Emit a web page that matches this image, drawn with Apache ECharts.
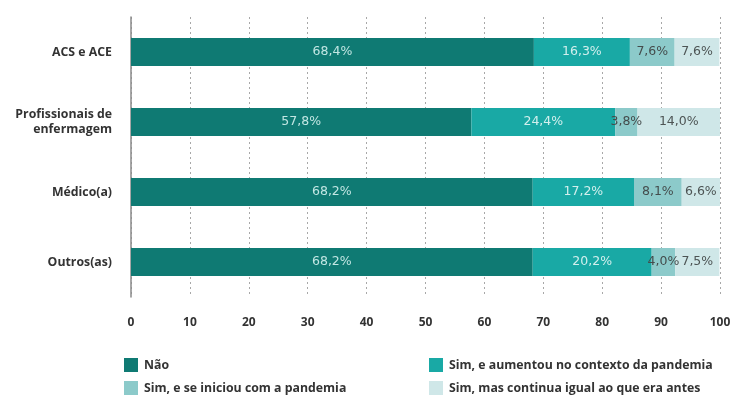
<!DOCTYPE html>
<html><head><meta charset="utf-8">
<script src="https://cdn.jsdelivr.net/npm/echarts@6/dist/echarts.min.js"></script>
<style>html,body{margin:0;padding:0;background:#fff}#c{width:735px;height:399px}</style>
</head><body><div id="c"></div>
<script>
const categories = ['ACS e ACE', 'Profissionais de\nenfermagem', 'Médico(a)', 'Outros(as)'];
const seriesNames = ['Não', 'Sim, e aumentou no contexto da pandemia', 'Sim, e se iniciou com a pandemia', 'Sim, mas continua igual ao que era antes'];
const nao = [68.4, 57.8, 68.2, 68.2];
const aumentou = [16.3, 24.4, 17.2, 20.2];
const iniciou = [7.6, 3.8, 8.1, 4.0];
const igual = [7.6, 14.0, 6.6, 7.5];
const xTicks = [0, 10, 20, 30, 40, 50, 60, 70, 80, 90, 100];

const colors = ['#0f7a73', '#19a9a5', '#8ccaca', '#cfe7e8'];
const labelColors = ['#c2e6e3', '#d2efed', '#444c4c', '#4d5454'];
const font = '"Open Sans", "Noto Sans", sans-serif';
const labelFont = '"DejaVu Sans", sans-serif';
const dataSets = [nao, aumentou, iniciou, igual];

const series = dataSets.map((d, i) => ({
  name: seriesNames[i],
  type: 'bar',
  stack: 'total',
  barWidth: 28,
  data: d,
  itemStyle: { color: colors[i] },
  label: {
    show: true,
    position: 'inside',
    formatter: p => p.value.toFixed(1).replace('.', ',') + '%',
    color: labelColors[i],
    fontSize: 12.5,
    fontFamily: labelFont
  }
}));

const legendText = { color: '#333', fontSize: 12.3, fontFamily: font, fontWeight: 'bold', padding: [0, 0, 0, 1] };

const chart = echarts.init(document.getElementById('c'));
chart.setOption({
  animation: false,
  grid: { left: 131, right: 15, top: 17, bottom: 102 },
  xAxis: {
    type: 'value', min: 0, max: 100, interval: 10,
    axisLine: { show: false },
    axisTick: { show: false },
    splitLine: { show: true, lineStyle: { type: [2, 3], color: '#a8a8a8', width: 1 } },
    axisLabel: {
      margin: 20, color: '#333', fontSize: 12, fontWeight: 'bold', fontFamily: font,
      formatter: v => xTicks.includes(v) ? String(v) : ''
    }
  },
  yAxis: {
    type: 'category', data: categories, inverse: true,
    axisLine: { show: true, lineStyle: { color: '#8a8a8a', width: 1.5 } },
    axisTick: { show: false },
    axisLabel: { margin: 19, color: '#333', fontSize: 12.3, fontWeight: 'bold', fontFamily: font, lineHeight: 15, align: 'right' }
  },
  legend: [
    {
      orient: 'vertical', left: 124, top: 358, padding: 0, itemWidth: 14, itemHeight: 14, itemGap: 9,
      icon: 'rect', selectedMode: false,
      data: [seriesNames[0], seriesNames[2]],
      textStyle: legendText
    },
    {
      orient: 'vertical', left: 429, top: 358, padding: 0, itemWidth: 14, itemHeight: 14, itemGap: 9,
      icon: 'rect', selectedMode: false,
      data: [seriesNames[1], seriesNames[3]],
      textStyle: legendText
    }
  ],
  series: series
});
</script></body></html>
